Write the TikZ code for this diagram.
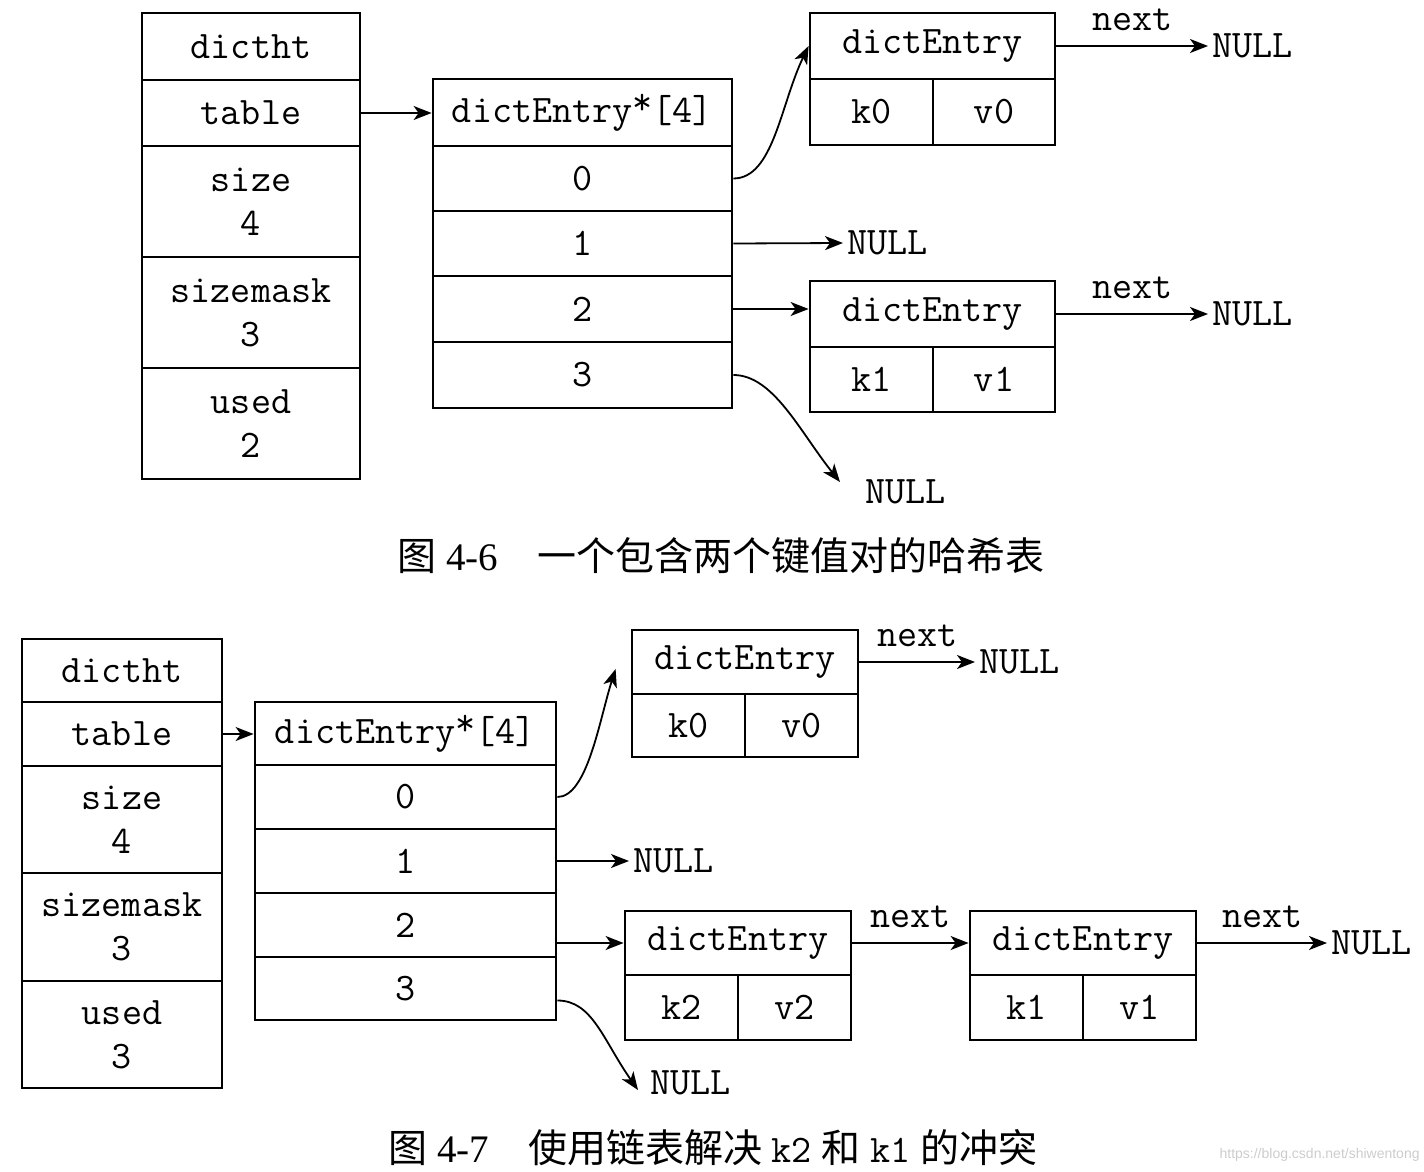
\documentclass[tikz,border=0pt]{standalone}
\usepackage{fontspec}
\setmainfont{Liberation Serif}
\setsansfont{Liberation Sans}
\newfontfamily\cjk{Noto Sans CJK SC}
\usetikzlibrary{arrows.meta,calc}
\newcommand\codefont{\fontsize{19.5}{22}\selectfont\ttfamily}
\newcommand\ptr{\raisebox{4pt}{*}}
\tikzset{
  cell/.style={draw, line width=1.4pt, inner sep=0pt, align=center, font=\codefont},
  lbl/.style={inner sep=2pt, anchor=west, font=\codefont},
  nxt/.style={anchor=south, inner xsep=0pt, inner ysep=7pt, font=\codefont},
  lnk/.style={-{Stealth[length=9pt,width=7pt,inset=2.5pt]}, line width=0.9pt},
}

\begin{document}
\begin{tikzpicture}[x=0.5pt,y=0.5pt,yscale=-1,xscale=1]
\useasboundingbox (0,0) rectangle (1424,1172);

%%%%% figure 4-6
%Shape: dictht
\node[cell, minimum width=109pt, minimum height=33.5pt] (t1ht) at (251,46.5) {dictht};
\node[cell, minimum width=109pt, minimum height=33pt] (t1table) at (251,113) {table};
\node[cell, minimum width=109pt, minimum height=55.5pt] (t1size) at (251,201.5) {size\\4};
\node[cell, minimum width=109pt, minimum height=55.5pt] (t1mask) at (251,312.5) {sizemask\\3};
\node[cell, minimum width=109pt, minimum height=55.5pt] (t1used) at (251,423.5) {used\\2};

%Shape: bucket array
\node[cell, minimum width=149.5pt, minimum height=33.5pt] (t1arr) at (582.5,112.5) {dictEntry\ptr[4]};
\foreach \i/\y/\h in {0/178.5/32.5,1/243.5/32.5,2/309/33,3/375/33}
  \node[cell, minimum width=149.5pt, minimum height=\h pt] (t1b\i) at (582.5,\y) {\i};

%Shape: dictEntry k0 v0
\node[cell, minimum width=122.5pt, minimum height=33pt] (t1e0h) at (932.5,46) {dictEntry};
\node[cell, minimum width=61.5pt, minimum height=33pt] (t1e0k) at (871.5,112) {k0};
\node[cell, minimum width=61pt, minimum height=33pt] (t1e0v) at (994,112) {v0};
%Shape: dictEntry k1 v1
\node[cell, minimum width=122.5pt, minimum height=33pt] (t1e1h) at (932.5,314) {dictEntry};
\node[cell, minimum width=61.5pt, minimum height=32.5pt] (t1e1k) at (871.5,379.5) {k1};
\node[cell, minimum width=61pt, minimum height=32.5pt] (t1e1v) at (994,379.5) {v1};

% Text Node
\node[lbl] (t1n0) at (1208,46) {NULL};
\node[lbl] (t1n1) at (843,243) {NULL};
\node[lbl] (t1n2) at (1208,314) {NULL};
\node[lbl] (t1n3) at (861,492) {NULL};

%Straight Lines
\draw[lnk] (t1table.east) -- (t1table.east -| t1arr.west);
\draw[lnk] (t1b0.east) .. controls +(40,0) and +(-28,58) .. (t1e0h.west);
\draw[lnk] (t1b1.east) -- (t1n1.west);
\draw[lnk] (t1b2.east) -- (t1b2.east -| t1e1h.west);
\draw[lnk] (t1b3.east) .. controls +(40,0) and +(-40,-50) .. ($(t1n3.west)+(-21,-10)$);
\draw[lnk] (t1e0h.east) -- (t1n0.west) node[nxt, midway] {next};
\draw[lnk] (t1e1h.east) -- (t1n2.west) node[nxt, midway] {next};

% Caption
\node[anchor=west, inner sep=0pt, font=\fontsize{19.5}{24}\selectfont] (cap1) at (397,556)
  {{\cjk 图} 4-6\quad{\cjk 一个包含两个键值对的哈希表}};

%%%%% figure 4-7
%Shape: dictht
\node[cell, minimum width=100pt, minimum height=31.5pt] (t2ht) at (122,670.5) {dictht};
\node[cell, minimum width=100pt, minimum height=32pt] (t2table) at (122,734) {table};
\node[cell, minimum width=100pt, minimum height=53.5pt] (t2size) at (122,819.5) {size\\4};
\node[cell, minimum width=100pt, minimum height=54pt] (t2mask) at (122,927) {sizemask\\3};
\node[cell, minimum width=100pt, minimum height=53.5pt] (t2used) at (122,1034.5) {used\\3};

%Shape: bucket array
\node[cell, minimum width=150.5pt, minimum height=31.5pt] (t2arr) at (405.5,733.5) {dictEntry\ptr[4]};
\foreach \i/\y/\h in {0/797/32,1/861/32,2/925/32,3/988.5/31.5}
  \node[cell, minimum width=150.5pt, minimum height=\h pt] (t2b\i) at (405.5,\y) {\i};

%Shape: dictEntry k0 v0
\node[cell, minimum width=113pt, minimum height=32pt] (t2e0h) at (745,662) {dictEntry};
\node[cell, minimum width=56.5pt, minimum height=31.5pt] (t2e0k) at (688.5,725.5) {k0};
\node[cell, minimum width=56.5pt, minimum height=31.5pt] (t2e0v) at (801.5,725.5) {v0};
%Shape: dictEntry k2 v2
\node[cell, minimum width=113pt, minimum height=32pt] (t2e2h) at (738,943) {dictEntry};
\node[cell, minimum width=56.5pt, minimum height=32.5pt] (t2e2k) at (681.5,1007.5) {k2};
\node[cell, minimum width=56.5pt, minimum height=32.5pt] (t2e2v) at (794.5,1007.5) {v2};
%Shape: dictEntry k1 v1
\node[cell, minimum width=113pt, minimum height=32pt] (t2e1h) at (1083,943) {dictEntry};
\node[cell, minimum width=56.5pt, minimum height=32.5pt] (t2e1k) at (1026.5,1007.5) {k1};
\node[cell, minimum width=56.5pt, minimum height=32.5pt] (t2e1v) at (1139.5,1007.5) {v1};

% Text Node
\node[lbl] (t2n0) at (975,662) {NULL};
\node[lbl] (t2n1) at (629,861) {NULL};
\node[lbl] (t2n2) at (1327,943) {NULL};
\node[lbl] (t2n3) at (646,1083) {NULL};

%Straight Lines
\draw[lnk] (t2table.east) -- (t2table.east -| t2arr.west);
\draw[lnk] (t2b0.east) .. controls +(30,0) and +(-16,50) .. ($(t2e0h.west)+(-15,7)$);
\draw[lnk] (t2b1.east) -- (t2n1.west);
\draw[lnk] (t2b2.east |- t2e2h.west) -- (t2e2h.west);
\draw[lnk] ($(t2b3.east)+(0,12)$) .. controls +(35,0) and +(-35,-50) .. ($(t2n3.west)+(-8,7)$);
\draw[lnk] (t2e0h.east) -- (t2n0.west) node[nxt, midway] {next};
\draw[lnk] (t2e2h.east) -- (t2e1h.west) node[nxt, midway] {next};
\draw[lnk] (t2e1h.east) -- (t2n2.west) node[nxt, midway] {next};

% Caption
\node[anchor=west, inner sep=0pt, font=\fontsize{19.5}{24}\selectfont] (cap2) at (388,1148)
  {{\cjk 图} 4-7\quad{\cjk 使用链表解决} {\codefont k2} {\cjk 和} {\codefont k1} {\cjk 的冲突}};
\node[anchor=east, inner sep=0pt, text=gray!40, font=\fontsize{7}{8}\selectfont\sffamily] (mark) at (1420,1155)
  {https://blog.csdn.net/shiwentong};

\end{tikzpicture}
\end{document}
